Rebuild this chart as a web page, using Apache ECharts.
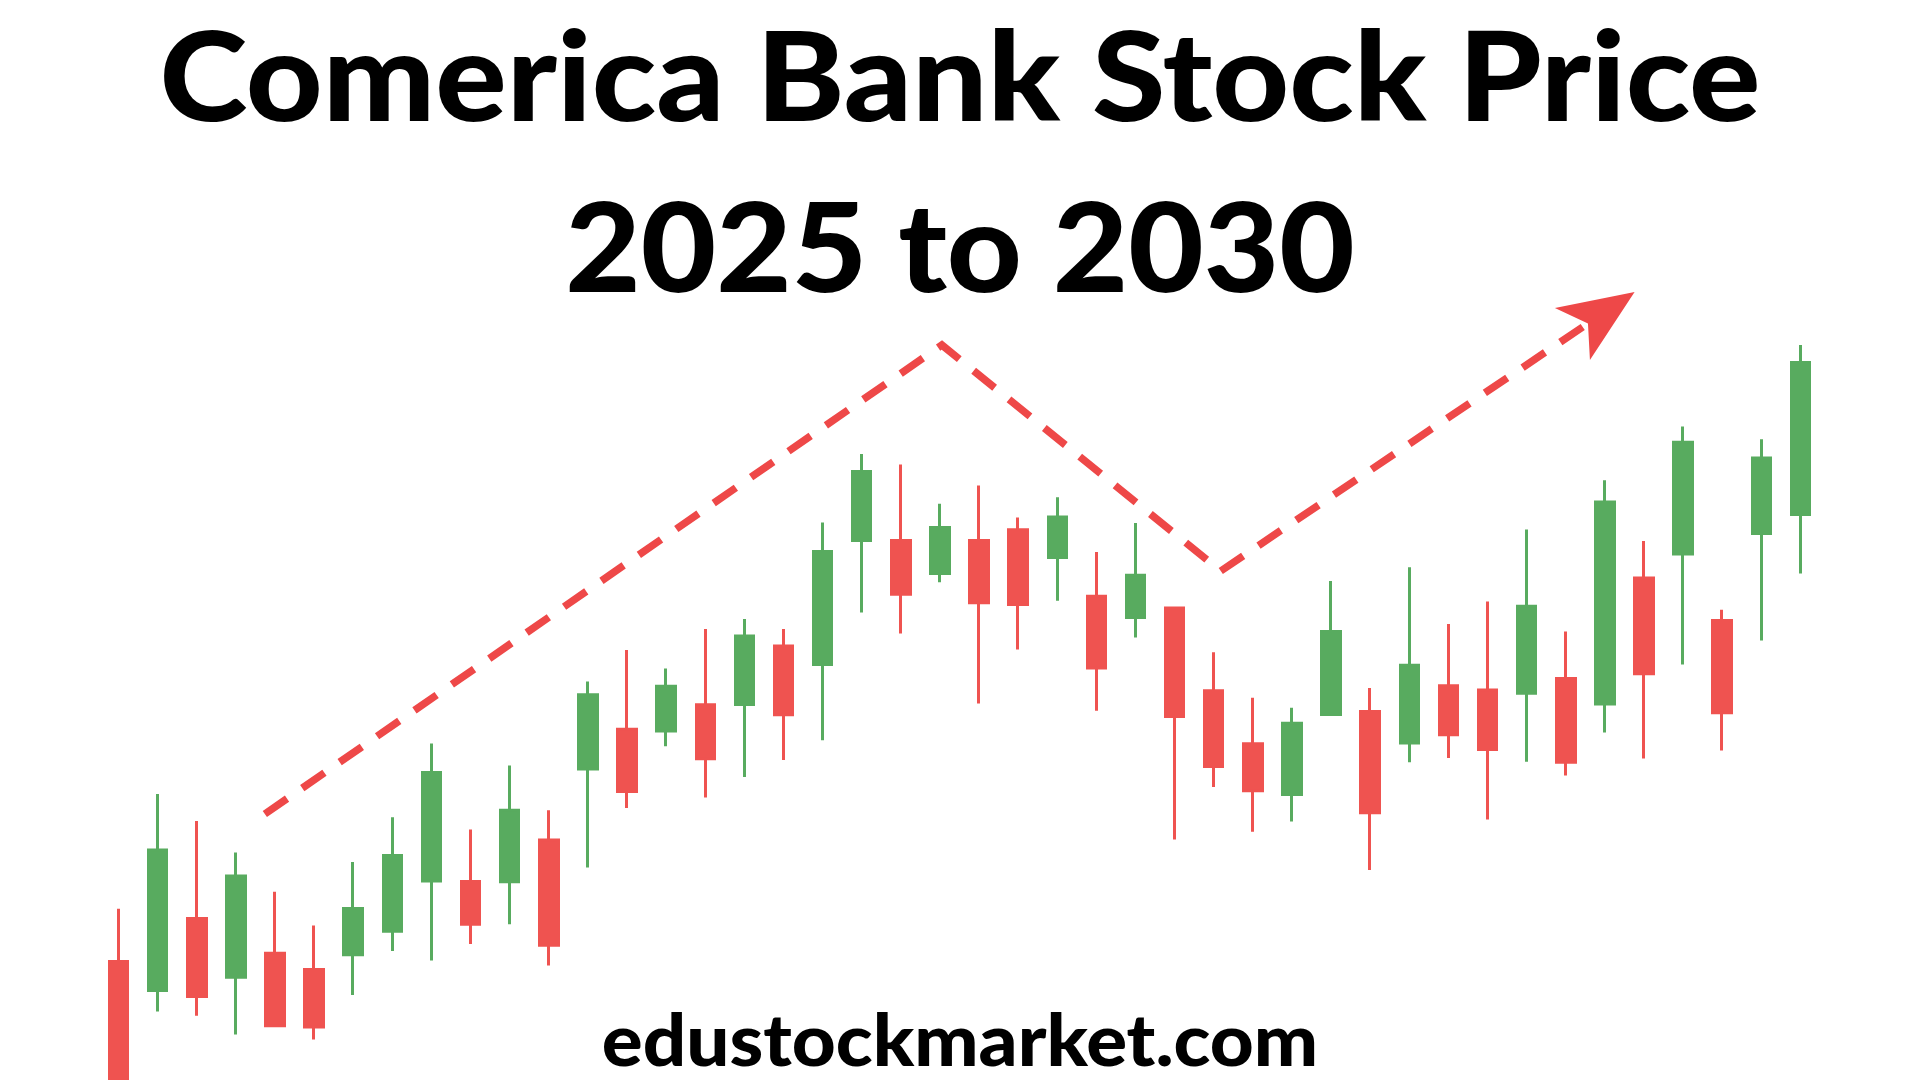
<!DOCTYPE html>
<html>
<head>
<meta charset="utf-8">
<script src="https://cdn.jsdelivr.net/npm/echarts@6/dist/echarts.min.js"></script>
<style>
html,body{margin:0;padding:0;background:#fff;}
#chart{width:1920px;height:1080px;}
</style>
</head>
<body>
<div id="chart"></div>
<script>
const categories = ["P1","P2","P3","P4","P5","P6","P7","P8","P9","P10","P11","P12","P13","P14","P15","P16","P17","P18","P19","P20","P21","P22","P23","P24","P25","P26","P27","P28","P29","P30","P31","P32","P33","P34","P35","P36","P37","P38","P39","P40","P41","P42","P43","P44"];
const openPrices  = [35.93,34.48,38.08,35.14,36.34,35.53,36.26,37.44,39.95,39.93,39.91,42.00,45.55,47.54,47.45,48.76,48.78,51.70,50.77,56.97,56.97,55.33,56.97,57.51,56.12,54.19,53.13,53.60,49.46,46.81,44.28,48.28,48.42,46.85,49.71,49.50,49.34,50.08,48.80,55.10,56.30,52.97,57.33,58.27];
const closePrices = [28.50,41.50,34.17,40.20,32.71,32.65,38.58,41.23,45.38,37.79,43.49,36.74,49.26,44.43,49.69,46.06,52.20,48.26,56.43,60.43,54.29,57.63,53.86,53.78,58.15,50.60,55.24,48.17,45.67,44.46,47.84,52.42,43.36,50.74,47.26,46.52,53.69,45.89,58.90,50.31,61.89,48.36,61.10,65.87];
const lowPrices   = [27.50,33.42,33.21,32.28,32.71,32.03,34.25,36.45,35.97,36.80,37.79,35.72,40.63,43.60,46.69,44.12,45.15,46.00,46.99,53.38,52.32,54.89,48.82,51.52,53.96,48.46,52.13,42.02,44.65,42.41,42.93,48.28,40.50,45.89,46.10,43.03,45.91,45.22,47.37,46.08,50.77,46.47,51.98,55.33];
const highPrices  = [38.56,44.30,42.95,41.38,39.41,37.73,40.90,43.14,46.83,42.52,45.73,43.49,49.92,51.50,50.58,52.55,53.05,52.55,57.88,61.30,60.78,58.81,59.72,58.13,59.14,56.40,57.85,53.60,51.39,49.11,48.61,54.95,49.60,55.64,52.80,53.92,57.52,52.42,59.99,56.95,62.67,53.51,62.04,66.75];

// trend line (position along the candle sequence, price)
const trendPos   = [3.74, 21.05, 28.18];
const trendPrice = [43.30, 66.75, 55.45];
const arrowTip   = [38.76, 69.40];

const titleLine1 = "Comerica Bank Stock Price";
const titleLine2 = "2025 to 2030";
const footerText = "edustockmarket.com";

const GREEN = "#58AB5F";
const RED = "#EF5350";
const TREND = "#EE4848";

const candleData = categories.map((c, i) => [openPrices[i], closePrices[i], lowPrices[i], highPrices[i]]);
const trendData = trendPos.map((x, i) => [x, trendPrice[i]]);

function heading(text, y, size, weight, sx) {
  return {
    type: 'text', x: 960, y: y, scaleX: sx, z: 100,
    style: {text: text, x: 0, y: 0, fill: '#000000',
            font: weight + ' ' + size + 'px Lato',
            textAlign: 'center', textVerticalAlign: 'top'}
  };
}

const chart = echarts.init(document.getElementById('chart'), null, {renderer: 'canvas'});
chart.setOption({
  animation: false,
  backgroundColor: '#ffffff',
  graphic: [
    heading(titleLine1, 20, 123, 900, 1.084),
    heading(titleLine2, 191, 123, 900, 1.058),
    heading(footerText, 1006, 73, 900, 1.045)
  ],
  grid: {left: 99, right: 100, top: 0, bottom: 0, containLabel: false},
  xAxis: [
    {type: 'category', data: categories, show: false, boundaryGap: true},
    {type: 'value', min: -0.5, max: 43.5, show: false}
  ],
  yAxis: {type: 'value', min: 30, max: 84, show: false, splitLine: {show: false}},
  series: [
    {
      type: 'candlestick',
      xAxisIndex: 0,
      data: candleData,
      barWidth: 19,
      clip: true,
      itemStyle: {color: GREEN, color0: RED, borderColor: GREEN, borderColor0: RED, borderWidth: 3}
    },
    {
      type: 'line',
      xAxisIndex: 1,
      data: trendData,
      showSymbol: false,
      symbol: 'none',
      lineStyle: {color: TREND, width: 7.5, type: [27, 18.5], cap: 'butt', join: 'miter'},
      z: 5,
      markLine: {
        silent: true,
        symbol: ['none', 'arrow'],
        symbolSize: [47, 75],
        label: {show: false},
        lineStyle: {color: TREND, width: 7.5, type: [27, 18.5]},
        data: [[{coord: [trendPos[2], trendPrice[2]]}, {coord: arrowTip}]]
      }
    }
  ]
});
</script>
</body>
</html>
